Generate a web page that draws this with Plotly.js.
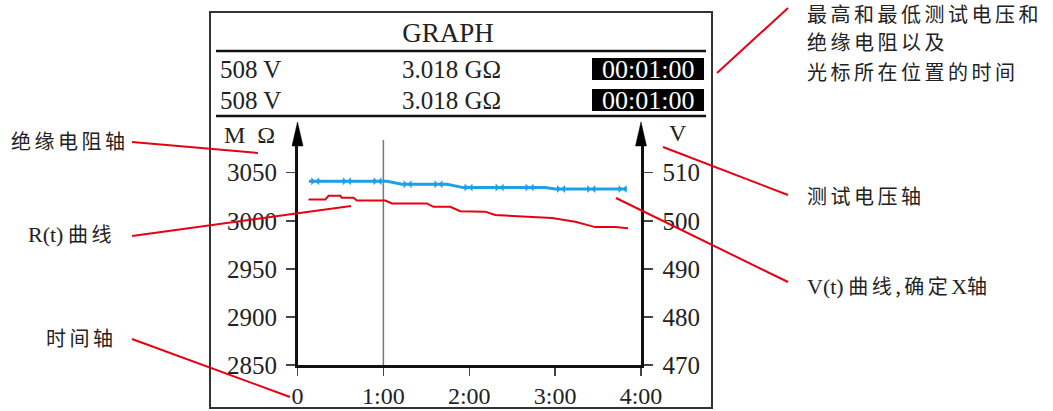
<!DOCTYPE html>
<html>
<head>
<meta charset="utf-8">
<script src="https://cdn.plot.ly/plotly-3.0.1.min.js"></script>
<style>
  html, body { margin: 0; padding: 0; background: #fff; }
  #chart { width: 1053px; height: 411px; }
</style>
</head>
<body>
<div id="chart"></div>
<script>
// ---------------- data ----------------
// time in seconds
const xTickVals = [0, 60, 120, 180, 240];
const xTickText = ["0", "1:00", "2:00", "3:00", "4:00"];
const rTickVals = [2850, 2900, 2950, 3000, 3050];
const vTickVals = [470, 480, 490, 500, 510];

// R(t) curve, MΩ
const rTime  = [7.7, 19.4, 21.7, 29.8, 31.0, 39.1, 41.5, 61.3, 66.0, 90.4, 95.0, 106.7, 113.7, 131.2, 138.2, 168.2, 177.8, 194.1, 201.0, 208.0, 222.0, 230.9];
const rValue = [3022, 3022, 3026, 3026, 3024, 3024, 3021, 3021, 3018, 3018, 3014.5, 3014.5, 3010, 3009.5, 3006, 3003.5, 3003, 2999, 2996.5, 2993.4, 2993.4, 2992.3];

// V(t) curve, V (line path)
const vLineTime = [8, 12.4, 34.5, 55.9, 62.5, 73.0, 76.9, 98.5, 104.4, 116.0, 119.5, 141.2, 162.1, 173.1, 180.1, 184.1, 205.2, 227.1, 230.2];
const vLineVolt = [508.2, 508.2, 508.2, 508.2, 508.2, 507.6, 507.6, 507.6, 507.6, 506.9, 506.9, 506.9, 506.9, 506.9, 506.6, 506.6, 506.6, 506.6, 506.6];
// V(t) sample markers
const vMarkTime = [12.4, 34.5, 55.9, 76.9, 98.5, 119.5, 141.2, 162.1, 184.1, 205.2, 227.1];
const vMarkVolt = [508.2, 508.2, 508.2, 507.6, 507.6, 506.9, 506.9, 506.9, 506.6, 506.6, 506.6];

const cursorTime = 60;
const maxVoltText = "508 V", maxResText = "3.018 GΩ", maxTimeText = "00:01:00";
const minVoltText = "508 V", minResText = "3.018 GΩ", minTimeText = "00:01:00";

// ---------------- layout helpers ----------------
const W = 1053, H = 411;
const px = x => x / W;
const py = y => 1 - y / H;
const RED = "#e60012", BLUE = "#1ea0e6";
const SERIF = "Liberation Serif, Times New Roman, serif";
const CJK = "Noto Sans CJK SC, sans-serif";

// plot area in pixels
const pl = 297.5, pr = 641, pb = 365, pt = 145;
const pxPerR = 0.9615;          // px per MΩ
const rMax = 2850 + (pb - pt) / pxPerR;
const vMax = 470 + (pb - pt) / (pxPerR * 5);

const traces = [
  { x: rTime, y: rValue, yaxis: "y", mode: "lines", line: { color: RED, width: 2 }, hoverinfo: "skip" },
  { x: vLineTime, y: vLineVolt, yaxis: "y2", mode: "lines", line: { color: BLUE, width: 3 }, hoverinfo: "skip" },
  { x: vMarkTime, y: vMarkVolt, yaxis: "y2", mode: "markers",
    marker: { symbol: "bowtie", size: 8, color: BLUE, line: { width: 0 } }, hoverinfo: "skip" }
];

function seg(x0, y0, x1, y1, color, width) {
  return { type: "line", xref: "paper", yref: "paper", x0: px(x0), y0: py(y0), x1: px(x1), y1: py(y1),
           line: { color: color, width: width } };
}
function tri(xc, yTip, yBase, hw) {
  return { type: "path", xref: "paper", yref: "paper",
    path: `M ${px(xc)} ${py(yTip)} L ${px(xc - hw)} ${py(yBase)} L ${px(xc + hw)} ${py(yBase)} Z`,
    fillcolor: "#000", line: { color: "#000", width: 0.5 } };
}
function box(x0, y0, x1, y1) {
  return { type: "rect", xref: "paper", yref: "paper", x0: px(x0), y0: py(y0), x1: px(x1), y1: py(y1),
           fillcolor: "#000", line: { width: 0 }, layer: "below" };
}

const shapes = [
  // outer frame
  { type: "rect", xref: "paper", yref: "paper", x0: px(210), y0: py(12), x1: px(712), y1: py(408),
    line: { color: "#333", width: 2 } },
  seg(216, 51, 706, 51, "#111", 2.5),
  seg(216, 116, 706, 116, "#111", 2.5),
  box(592, 58, 704, 80),
  box(592, 89, 704, 111),
  // axis arrows
  tri(pl, 122, pt + 1, 5.5),
  tri(pr, 122, pt + 1, 5.5),
  // cursor
  { type: "line", xref: "x", yref: "paper", x0: cursorTime, x1: cursorTime, y0: py(pb), y1: py(140),
    line: { color: "#777", width: 1.5 }, layer: "below" },
  // callout lines
  seg(132, 142, 258, 153, RED, 2),
  seg(132, 236, 351, 206, RED, 2),
  seg(132, 339, 290, 397, RED, 2),
  seg(788, 8, 717, 73, RED, 2),
  seg(663, 147, 788, 195, RED, 2),
  seg(616, 198, 788, 282, RED, 2)
];

function txt(text, x, y, opts) {
  return Object.assign({ text: text, xref: "paper", yref: "paper", x: px(x), y: py(y),
    xanchor: "left", yanchor: "middle", showarrow: false,
    font: { family: SERIF, size: 24, color: "#222" } }, opts || {});
}
const sp = s => `<span style="letter-spacing:3.5px">${s}</span>`;
const lat = s => `<span style="font-family:${SERIF};font-size:22px">${s}</span>`;

const annotations = [
  txt(maxVoltText, 218, 69, { font: { family: SERIF, size: 25, color: "#222" } }),
  txt(maxResText, 451, 69, { xanchor: "center", font: { family: SERIF, size: 25, color: "#222" } }),
  txt(maxTimeText, 648, 69.5, { xanchor: "center", font: { family: SERIF, size: 26, color: "#fff" } }),
  txt(minVoltText, 218, 100, { font: { family: SERIF, size: 25, color: "#222" } }),
  txt(minResText, 451, 100, { xanchor: "center", font: { family: SERIF, size: 25, color: "#222" } }),
  txt(minTimeText, 648, 100.5, { xanchor: "center", font: { family: SERIF, size: 26, color: "#fff" } }),
  txt("M&nbsp;&nbsp;Ω", 249, 135, { xanchor: "center" }),
  txt("V", 678, 133, { xanchor: "center" }),
  // callout labels
  txt(sp("绝缘电阻轴"), 9, 140, { font: { family: CJK, size: 20, color: "#222" } }),
  txt(lat("R(t)") + " " + sp("曲线"), 26, 233, { font: { family: CJK, size: 20, color: "#222" } }),
  txt(sp("时间轴"), 44, 337, { font: { family: CJK, size: 20, color: "#222" } }),
  txt(sp("最高和最低测试电压和"), 805, 14, { font: { family: CJK, size: 20, color: "#222" } }),
  txt(sp("绝缘电阻以及"), 805, 42, { font: { family: CJK, size: 20, color: "#222" } }),
  txt(sp("光标所在位置的时间"), 805, 71, { font: { family: CJK, size: 20, color: "#222" } }),
  txt(sp("测试电压轴"), 805, 195, { font: { family: CJK, size: 20, color: "#222" } }),
  txt(lat("V(t)") + " " + sp("曲线,确定") + lat("X") + sp("轴"), 805, 285, { font: { family: CJK, size: 20, color: "#222" } })
];

const tickFont = { family: SERIF, size: 25, color: "#222" };
const layout = {
  width: W, height: H,
  margin: { l: 0, r: 0, t: 0, b: 0 },
  paper_bgcolor: "#fff", plot_bgcolor: "rgba(0,0,0,0)",
  showlegend: false,
  title: { text: "GRAPH", x: px(448), xanchor: "center", y: py(33), yanchor: "middle",
           font: { family: SERIF, size: 27, color: "#222" } },
  xaxis: {
    domain: [px(pl), px(pr)], range: [0, 240], anchor: "y",
    tickmode: "array", tickvals: xTickVals, ticktext: xTickText,
    ticks: "outside", ticklen: 8, tickwidth: 1.5, tickcolor: "#444",
    showline: true, linewidth: 2.5, linecolor: "#111",
    showgrid: false, zeroline: false, tickfont: { family: SERIF, size: 24, color: "#222" },
    ticklabelstandoff: 0, fixedrange: true
  },
  yaxis: {
    domain: [1 - pb / H, 1 - pt / H], range: [2850, rMax],
    tickmode: "array", tickvals: rTickVals,
    ticks: "outside", ticklen: 9, tickwidth: 1.5, tickcolor: "#444",
    showline: true, linewidth: 2.5, linecolor: "#111",
    showgrid: false, zeroline: false, tickfont: tickFont, ticklabelstandoff: 4, fixedrange: true
  },
  yaxis2: {
    overlaying: "y", side: "right", anchor: "x", range: [470, vMax],
    tickmode: "array", tickvals: vTickVals,
    ticks: "outside", ticklen: 9, tickwidth: 1.5, tickcolor: "#444",
    showline: true, linewidth: 2.5, linecolor: "#111",
    showgrid: false, zeroline: false, tickfont: tickFont, ticklabelstandoff: 5, fixedrange: true
  },
  shapes: shapes,
  annotations: annotations
};

Plotly.newPlot("chart", traces, layout, { staticPlot: true, displayModeBar: false });
</script>
</body>
</html>
